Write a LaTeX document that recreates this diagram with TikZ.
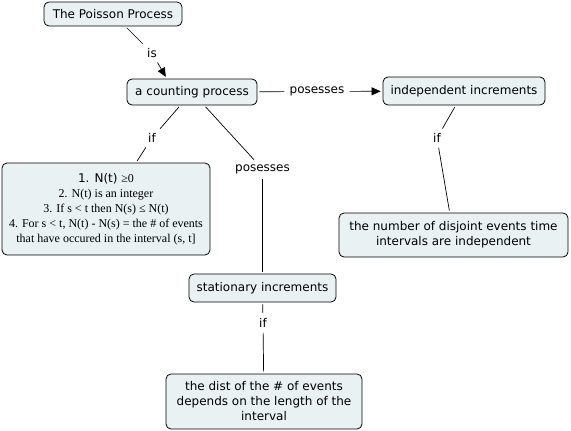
\documentclass[tikz,border=0pt]{standalone}
\usepackage{fontspec}
\setmainfont{DejaVu Sans}
\newfontfamily\timesfont{Liberation Serif}
\usepackage{xcolor}
\usetikzlibrary{arrows.meta}
\definecolor{conceptfill}{RGB}{233,241,243}

\begin{document}
\begin{tikzpicture}[
  x=1pt, y=-1pt,
  font=\fontsize{12}{15}\selectfont,
  concept/.style={draw, rounded corners=5pt, fill=conceptfill, align=center, inner sep=2pt, line width=0.8pt},
  link/.style={inner sep=3pt},
  conn/.style={line width=0.7pt, shorten <=2pt, shorten >=2pt},
  arr/.style={conn, -{Triangle[length=9pt,width=8pt]}}
]
\useasboundingbox (0,0) rectangle (571,431);

\node[concept, minimum width=138, minimum height=24] (poisson) at (113,14) {The Poisson Process};
\node[concept, minimum width=130, minimum height=26] (count) at (192,92) {a counting process};
\node[concept, minimum width=162, minimum height=28] (indep) at (464,91) {independent increments};
\node[concept, minimum width=208, minimum height=92] (list) at (106,209)
  {1. N(t) {\timesfont ≥0}\\
   \timesfont 2. N(t) is an integer\\
   \timesfont 3. If s < t then N(s) ≤ N(t)\\
   \timesfont 4. For s < t, N(t) - N(s) = the \# of events\\
   \timesfont that have occured in the interval (s, t]};
\node[concept, minimum width=229, minimum height=44] (disjoint) at (453.5,235)
  {the number of disjoint events time\\intervals are independent};
\node[concept, minimum width=147, minimum height=28] (stat) at (262.5,288) {stationary increments};
\node[concept, minimum width=196, minimum height=55] (dist) at (264,401.5)
  {the dist of the \# of events\\depends on the length of the\\interval};

\node[link] (is) at (152,53) {is};
\node[link] (pos1) at (317,91.5) {posesses};
\node[link] (if1) at (152,138) {if};
\node[link] (pos2) at (262.5,169) {posesses};
\node[link] (if2) at (437,138) {if};
\node[link] (if3) at (263,323) {if};

\draw[conn] (poisson.-45) -- (is);
\draw[arr] (is) -- (count.152);
\draw[conn] (count) -- (pos1);
\draw[arr] (pos1) -- (indep);
\draw[conn] (count) -- (if1);
\draw[conn] (if1) -- (list);
\draw[conn] (count) -- (pos2);
\draw[conn] (pos2) -- (stat);
\draw[conn] (indep) -- (if2);
\draw[conn] (if2) -- (disjoint);
\draw[conn] (stat) -- (if3);
\draw[conn] (if3) -- (dist);
\end{tikzpicture}
\end{document}
